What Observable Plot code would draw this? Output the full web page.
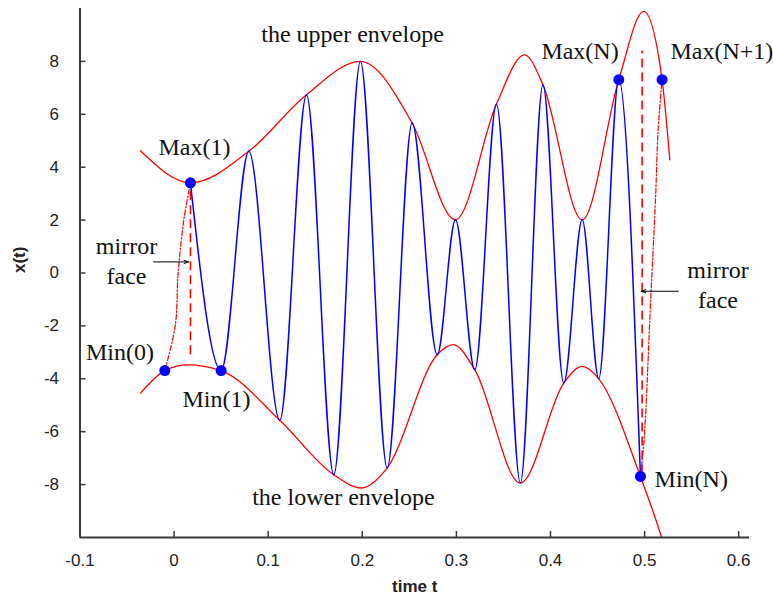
<!DOCTYPE html>
<html>
<head>
<meta charset="utf-8">
<script src="https://cdn.jsdelivr.net/npm/d3@7"></script>
<script src="https://cdn.jsdelivr.net/npm/@observablehq/plot@0.6"></script>
<style>
  html, body { margin: 0; padding: 0; background: #fff; }
  #chart { width: 773px; height: 606px; }
</style>
</head>
<body>
<div id="chart"></div>
<script>
// ---- data ----
// blue signal: its successive extrema, from Max(1) to Min(N)
const signalT = [0.0174, 0.050, 0.0794, 0.1123, 0.1407, 0.1697, 0.198, 0.2265, 0.253, 0.2796,
                 0.299, 0.3196, 0.3426, 0.368, 0.392, 0.4141, 0.4337, 0.4513, 0.4726, 0.4956];
const signalX = [3.41, -3.69, 4.6, -5.57, 6.74, -7.63, 8.0, -7.37, 5.67, -3.09,
                 2.01, -3.66, 6.39, -7.94, 7.12, -4.16, 2.01, -4.0, 7.31, -7.69];

// upper envelope samples (maxima, visible envelope peaks and the two ends)
const upperT = [-0.0357, 0.0174, 0.0794, 0.1407, 0.198, 0.253, 0.299, 0.3426, 0.3724, 0.392, 0.4337, 0.4726, 0.499, 0.5186, 0.5268];
const upperX = [4.62, 3.41, 4.6, 6.74, 8.0, 5.67, 2.01, 6.39, 8.25, 7.12, 2.01, 7.31, 9.89, 7.31, 4.28];

// lower envelope samples (minima, visible envelope peaks and the two ends)
const lowerT = [-0.0357, -0.0099, 0.0139, 0.050, 0.1123, 0.1697, 0.199, 0.2265, 0.2796, 0.2966, 0.3196, 0.368, 0.4141, 0.4337, 0.4513, 0.4956, 0.518, 0.526];
const lowerX = [-4.54, -3.69, -3.47, -3.69, -5.57, -7.63, -8.13, -7.37, -3.09, -2.71, -3.66, -7.94, -4.16, -3.53, -4.0, -7.69, -9.98, -10.9];

// mirrored (extended) signal pieces, dash-dot
const mirrorLeftT = [-0.0099, 0.0012, 0.0043, 0.0103, 0.0174];
const mirrorLeftX = [-3.69, -2.0, 0.0, 2.0, 3.41];
const mirrorRightT = [0.4956, 0.4995, 0.5065, 0.5116, 0.5144, 0.5186];
const mirrorRightX = [-7.69, -6.3, -1.0, 2.77, 5.42, 7.31];

// mirror faces (dashed verticals)
const faceT = [0.0174, 0.4974];
const faceTop = [3.3, 8.38];
const faceBottom = [-3.09, -7.6];

// marked extrema (dots)
const dotNames = ["Max(1)", "Min(0)", "Min(1)", "Max(N)", "Max(N+1)", "Min(N)"];
const dotT = [0.0174, -0.0099, 0.050, 0.4726, 0.5186, 0.4956];
const dotX = [3.41, -3.69, -3.69, 7.31, 7.31, -7.69];

// arrows pointing at the mirror faces
const arrowT1 = [-0.0218, 0.5359];
const arrowT2 = [0.0153, 0.4966];
const arrowX = [0.42, -0.69];

// annotation labels
const labelText = ["the upper envelope", "Max(1)", "mirror\nface", "Min(0)", "Min(1)", "the lower envelope",
                   "Max(N)", "Max(N+1)", "mirror\nface", "Min(N)"];
const labelT = [0.1896, 0.0217, -0.0506, -0.0575, 0.0451, 0.180, 0.4314, 0.5822, 0.578, 0.5496];
const labelX = [9.1, 4.81, 0.5, -2.92, -4.70, -8.42, 8.46, 8.46, -0.385, -7.72];

// axes
const xTicks = [-0.1, 0, 0.1, 0.2, 0.3, 0.4, 0.5, 0.6];
const yTicks = [-8, -6, -4, -2, 0, 2, 4, 6, 8];
const xDomain = [-0.1, 0.6115];
const yDomain = [-10, 10];
const xTitle = "time t";
const yTitle = "x(t)";

// ---- build tables ----
const zip = (ts, xs) => ts.map((t, i) => ({t, x: xs[i]}));
const signal = zip(signalT, signalX);
const upper = zip(upperT, upperX);
const lower = zip(lowerT, lowerX);
const mirrorLeft = zip(mirrorLeftT, mirrorLeftX);
const mirrorRight = zip(mirrorRightT, mirrorRightX);
const faces = faceT.map((t, i) => ({t, top: faceTop[i], bottom: faceBottom[i]}));
const dots = dotT.map((t, i) => ({name: dotNames[i], t, x: dotX[i]}));
const arrows = arrowT1.map((t1, i) => ({t1, t2: arrowT2[i], x: arrowX[i]}));
const labels = labelText.map((s, i) => ({s, t: labelT[i], x: labelX[i]}));

const W = 773, H = 606;
const mL = 79.5, mR = 24, mT = 8, mB = 69;
const frameW = W - mL - mR, frameH = H - mT - mB;
const axisColor = "#3a3a3a";
const sans = "'Liberation Sans', Arial, sans-serif";
const serif = "'Liberation Serif', 'Times New Roman', serif";

const chart = Plot.plot({
  width: W,
  height: H,
  marginLeft: mL,
  marginRight: mR,
  marginTop: mT,
  marginBottom: mB,
  style: {background: "#fff", fontFamily: sans},
  x: {domain: xDomain},
  y: {domain: yDomain},
  marks: [
    // envelopes
    Plot.line(upper, {x: "t", y: "x", curve: "monotone-x", stroke: "#ff0000", strokeWidth: 1.3, clip: true}),
    Plot.line(lower, {x: "t", y: "x", curve: "monotone-x", stroke: "#ff0000", strokeWidth: 1.3, clip: true}),
    // mirror faces
    Plot.ruleX(faces, {x: "t", y1: "bottom", y2: "top", stroke: "#ff0000", strokeWidth: 1.6, strokeDasharray: "9,5"}),
    // mirrored extensions
    Plot.line(mirrorLeft, {x: "t", y: "x", curve: "catmull-rom", stroke: "#ff0000", strokeWidth: 1.2, strokeDasharray: "5,2,1.5,2"}),
    Plot.line(mirrorRight, {x: "t", y: "x", curve: "catmull-rom", stroke: "#ff0000", strokeWidth: 1.2, strokeDasharray: "5,2,1.5,2"}),
    // signal
    Plot.line(signal, {x: "t", y: "x", curve: "monotone-x", stroke: "#0000ff", strokeWidth: 1.5}),
    // extrema dots
    Plot.dot(dots, {x: "t", y: "x", r: 5.5, fill: "#0000ff", stroke: "none"}),
    // arrows
    Plot.arrow(arrows, {x1: "t1", y1: "x", x2: "t2", y2: "x", stroke: "#000", strokeWidth: 1, headLength: 7, headAngle: 40}),
    // annotations
    Plot.text(labels, {x: "t", y: "x", text: "s", fontFamily: serif, fontSize: 24, fill: "#111", lineHeight: 1.25}),
    // axes
    Plot.ruleX([xDomain[0]], {stroke: axisColor, strokeWidth: 2}),
    Plot.ruleY([yDomain[0]], {stroke: axisColor, strokeWidth: 2}),
    Plot.tickX(xTicks, {x: d => d, insetTop: frameH - 6, stroke: axisColor, strokeWidth: 1.5}),
    Plot.tickY(yTicks, {y: d => d, insetRight: frameW - 6, stroke: axisColor, strokeWidth: 1.5}),
    Plot.axisX(xTicks, {tickSize: 0, tickPadding: 16, fontSize: 17, fill: "#222", label: null, tickFormat: d => String(d)}),
    Plot.axisY(yTicks, {tickSize: 0, tickPadding: 21, fontSize: 17, fill: "#222", label: null, tickFormat: d => String(d)}),
    Plot.text([xTitle], {frameAnchor: "bottom", dy: 54, fontSize: 17, fontWeight: "bold", fill: "#222"}),
    Plot.text([yTitle], {frameAnchor: "left", dx: -60, rotate: -90, fontSize: 17, fontWeight: "bold", fill: "#222"})
  ]
});
document.getElementById("chart").appendChild(chart);
</script>
</body>
</html>
